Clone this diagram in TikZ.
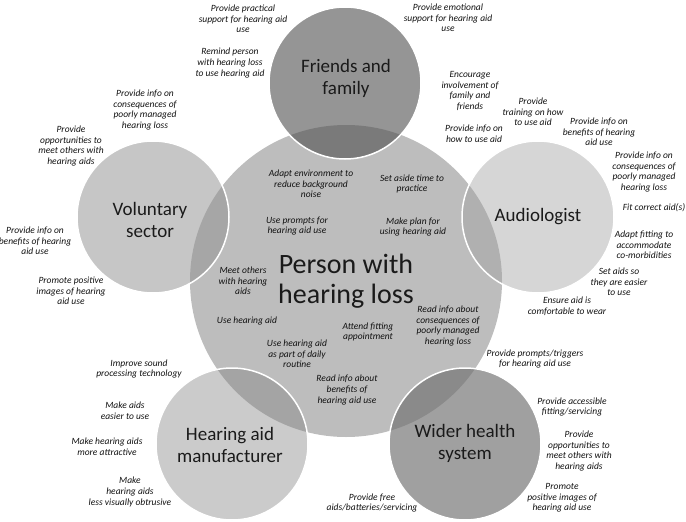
\documentclass[tikz,border=0pt]{standalone}
\usepackage{fontspec}
\setmainfont{Carlito}
\definecolor{cC}{HTML}{BDBDBD}
\definecolor{cF}{HTML}{959595}
\definecolor{lF}{HTML}{7A7A7A}
\definecolor{cV}{HTML}{C6C6C6}
\definecolor{lV}{HTML}{A6A6A6}
\definecolor{cA}{HTML}{D6D6D6}
\definecolor{lA}{HTML}{B0B0B0}
\definecolor{cM}{HTML}{CBCBCB}
\definecolor{lM}{HTML}{A4A4A4}
\definecolor{cW}{HTML}{A0A0A0}
\definecolor{lW}{HTML}{8A8A8A}
\definecolor{lab}{HTML}{111111}
\definecolor{ttlc}{HTML}{1A1A1A}
\begin{document}
\begin{tikzpicture}[x=1pt,y=-1pt,
  lbl/.style={font=\fontsize{9.5}{10.6}\selectfont\itshape, text=lab, align=center, inner sep=0pt},
  ttl/.style={font=\fontsize{19}{22}\selectfont, text=ttlc, align=center, inner sep=0pt},
  bigttl/.style={font=\fontsize{28}{30}\selectfont, text=ttlc, align=center, inner sep=0pt},
  rim/.style={draw=white, line width=1.5pt}
]
\useasboundingbox (0,0) rectangle (686,522);
% central circle
\fill[cC] (346,281) circle (156pt);
% small circles
\fill[cF] (345,83) circle (76pt);
\fill[cV] (153,217) circle (76pt);
\fill[cA] (538,217) circle (76pt);
\fill[cM] (232,444) circle (76pt);
\fill[cW] (465,444) circle (76pt);
% lenses
\begin{scope}
  \clip (346,281) circle (156pt);
  \fill[lF] (345,83) circle (76pt);
  \fill[lV] (153,217) circle (76pt);
  \fill[lA] (538,217) circle (76pt);
  \fill[lM] (232,444) circle (76pt);
  \fill[lW] (465,444) circle (76pt);
\end{scope}
% white rims
\draw[rim] (345,83) circle (76pt);
\draw[rim] (153,217) circle (76pt);
\draw[rim] (538,217) circle (76pt);
\draw[rim] (232,444) circle (76pt);
\draw[rim] (465,444) circle (76pt);

% titles
\node[bigttl] (person) at (346,281) {Person with\\hearing loss};
\node[ttl] (friends) at (346,78) {Friends and\\family};
\node[ttl] (vol) at (150,220) {Voluntary\\sector};
\node[ttl] (aud) at (538,217) {Audiologist};
\node[ttl] (manu) at (230,445) {Hearing aid\\manufacturer};
\node[ttl] (wider) at (465,443) {Wider health\\system};

% friends and family labels
\node[lbl] (f1) at (243,19) {Provide practical\\support for hearing aid\\use};
\node[lbl] (f2) at (230,63) {Remind person\\with hearing loss\\to use hearing aid};
\node[lbl] (f3) at (448,18) {Provide emotional\\support for hearing aid\\use};
\node[lbl] (f4) at (470,91) {Encourage\\involvement of\\family and\\friends};

% audiologist labels
\node[lbl] (a1) at (474,134) {Provide info on\\how to use aid};
\node[lbl] (a2) at (533,112) {Provide\\training on how\\to use aid};
\node[lbl] (a3) at (599,132) {Provide info on\\benefits of hearing\\aid use};
\node[lbl] (a4) at (644,172) {Provide info on\\consequences of\\poorly managed\\hearing loss};
\node[lbl] (a5) at (654,208) {Fit correct aid(s)};
\node[lbl] (a6) at (644,245) {Adapt fitting to\\accommodate\\co-morbidities};
\node[lbl] (a7) at (619,282) {Set aids so\\they are easier\\to use};
\node[lbl] (a8) at (567,306) {Ensure aid is\\comfortable to wear};

% voluntary sector labels
\node[lbl] (v1) at (145,110) {Provide info on\\consequences of\\poorly managed\\hearing loss};
\node[lbl] (v2) at (71,146) {Provide\\opportunities to\\meet others with\\hearing aids};
\node[lbl] (v3) at (35,241) {Provide info on\\benefits of hearing\\aid use};
\node[lbl] (v4) at (71,291) {Promote positive\\images of hearing\\aid use};

% person labels
\node[lbl] (p1) at (311,184) {Adapt environment to\\reduce background\\noise};
\node[lbl] (p2) at (412,184) {Set aside time to\\practice};
\node[lbl] (p3) at (297,226) {Use prompts for\\hearing aid use};
\node[lbl] (p4) at (413,227) {Make plan for\\using hearing aid};
\node[lbl] (p5) at (243,281) {Meet others\\with hearing\\aids};
\node[lbl] (p6) at (247,321) {Use hearing aid};
\node[lbl] (p7) at (368,332) {Attend fitting\\appointment};
\node[lbl] (p8) at (448,326) {Read info about\\consequences of\\poorly managed\\hearing loss};
\node[lbl] (p9) at (297,354) {Use hearing aid\\as part of daily\\routine};
\node[lbl] (p10) at (347,390) {Read info about\\benefits of\\hearing aid use};

% manufacturer labels
\node[lbl] (m1) at (139,369) {Improve sound\\processing technology};
\node[lbl] (m2) at (125,411) {Make aids\\easier to use};
\node[lbl] (m3) at (107,447) {Make hearing aids\\more attractive};
\node[lbl] (m4) at (130,492) {Make\\hearing aids\\less visually obtrusive};

% wider health labels
\node[lbl] (w1) at (535,359) {Provide prompts/triggers\\for hearing aid use};
\node[lbl] (w2) at (572,407) {Provide accessible\\fitting/servicing};
\node[lbl] (w3) at (579,451) {Provide\\opportunities to\\meet others with\\hearing aids};
\node[lbl] (w4) at (562,498) {Promote\\positive images of\\hearing aid use};
\node[lbl] (w5) at (372,503) {Provide free\\aids/batteries/servicing};
\end{tikzpicture}
\end{document}
